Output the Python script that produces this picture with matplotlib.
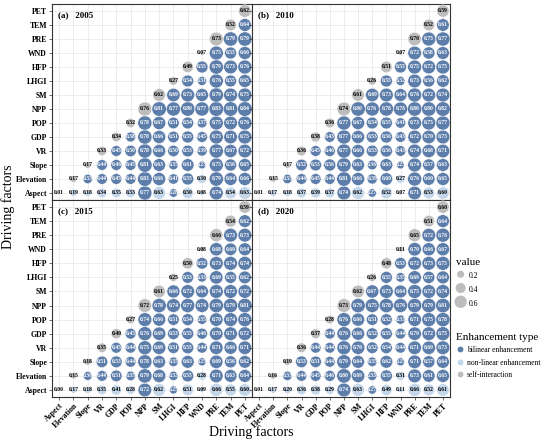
import matplotlib
matplotlib.use('Agg')
import matplotlib.pyplot as plt
from matplotlib.lines import Line2D

plt.rcParams['font.family'] = ['Liberation Serif', 'DejaVu Serif']

factors = ['Aspect', 'Elevation', 'Slope', 'VR', 'GDP', 'POP', 'NPP', 'SM',
           'LHGI', 'HFP', 'WND', 'PRE', 'TEM', 'PET']
years = ['2005', '2010', '2015', '2020']
tags = ['(a)', '(b)', '(c)', '(d)']

# each row: factor's own q (diagonal) followed by interactions with later factors
q2005 = [
    [0.01, 0.19, 0.18, 0.34, 0.35, 0.33, 0.77, 0.63, 0.28, 0.50, 0.08, 0.74, 0.54, 0.63],
    [0.17, 0.33, 0.44, 0.45, 0.44, 0.83, 0.66, 0.41, 0.55, 0.30, 0.79, 0.64, 0.66],
    [0.17, 0.44, 0.46, 0.45, 0.81, 0.63, 0.35, 0.61, 0.23, 0.75, 0.56, 0.65],
    [0.33, 0.45, 0.50, 0.78, 0.66, 0.50, 0.53, 0.39, 0.77, 0.67, 0.72],
    [0.34, 0.38, 0.78, 0.66, 0.51, 0.55, 0.45, 0.75, 0.71, 0.75],
    [0.32, 0.78, 0.67, 0.51, 0.54, 0.37, 0.75, 0.72, 0.76],
    [0.76, 0.81, 0.77, 0.80, 0.77, 0.83, 0.81, 0.84],
    [0.62, 0.69, 0.73, 0.65, 0.79, 0.74, 0.75],
    [0.27, 0.54, 0.31, 0.76, 0.55, 0.65],
    [0.49, 0.55, 0.79, 0.73, 0.76],
    [0.07, 0.75, 0.55, 0.66],
    [0.73, 0.79, 0.79],
    [0.52, 0.64],
    [0.62],
]
q2010 = [
    [0.01, 0.17, 0.18, 0.37, 0.39, 0.37, 0.74, 0.62, 0.27, 0.52, 0.07, 0.71, 0.53, 0.60],
    [0.15, 0.33, 0.44, 0.45, 0.44, 0.81, 0.66, 0.39, 0.60, 0.27, 0.76, 0.60, 0.65],
    [0.17, 0.52, 0.53, 0.56, 0.79, 0.63, 0.36, 0.63, 0.23, 0.74, 0.57, 0.63],
    [0.36, 0.45, 0.46, 0.77, 0.66, 0.53, 0.56, 0.43, 0.74, 0.68, 0.71],
    [0.38, 0.43, 0.77, 0.66, 0.53, 0.56, 0.43, 0.72, 0.70, 0.73],
    [0.36, 0.77, 0.67, 0.54, 0.55, 0.41, 0.73, 0.75, 0.77],
    [0.74, 0.80, 0.76, 0.78, 0.76, 0.80, 0.80, 0.82],
    [0.61, 0.69, 0.73, 0.64, 0.76, 0.72, 0.74],
    [0.26, 0.55, 0.32, 0.73, 0.56, 0.62],
    [0.51, 0.55, 0.75, 0.72, 0.75],
    [0.07, 0.72, 0.58, 0.63],
    [0.70, 0.75, 0.77],
    [0.52, 0.61],
    [0.59],
]
q2015 = [
    [0.00, 0.17, 0.18, 0.35, 0.41, 0.28, 0.72, 0.62, 0.25, 0.51, 0.09, 0.66, 0.55, 0.60],
    [0.15, 0.30, 0.44, 0.51, 0.35, 0.79, 0.68, 0.33, 0.55, 0.28, 0.71, 0.63, 0.64],
    [0.18, 0.51, 0.53, 0.44, 0.78, 0.63, 0.35, 0.63, 0.25, 0.69, 0.56, 0.62],
    [0.35, 0.45, 0.44, 0.75, 0.69, 0.51, 0.55, 0.44, 0.71, 0.66, 0.71],
    [0.40, 0.45, 0.76, 0.69, 0.53, 0.55, 0.46, 0.70, 0.71, 0.72],
    [0.27, 0.74, 0.66, 0.51, 0.54, 0.35, 0.70, 0.74, 0.76],
    [0.72, 0.78, 0.74, 0.77, 0.74, 0.79, 0.79, 0.81],
    [0.61, 0.66, 0.72, 0.64, 0.74, 0.72, 0.72],
    [0.25, 0.53, 0.33, 0.69, 0.55, 0.62],
    [0.50, 0.52, 0.73, 0.74, 0.74],
    [0.08, 0.68, 0.60, 0.64],
    [0.66, 0.73, 0.73],
    [0.54, 0.62],
    [0.59],
]
q2020 = [
    [0.01, 0.17, 0.20, 0.36, 0.38, 0.29, 0.74, 0.63, 0.27, 0.49, 0.11, 0.66, 0.52, 0.61],
    [0.16, 0.33, 0.44, 0.45, 0.46, 0.80, 0.69, 0.33, 0.55, 0.31, 0.73, 0.61, 0.65],
    [0.19, 0.53, 0.51, 0.44, 0.79, 0.64, 0.35, 0.62, 0.25, 0.71, 0.57, 0.64],
    [0.36, 0.44, 0.44, 0.76, 0.70, 0.52, 0.54, 0.44, 0.71, 0.69, 0.73],
    [0.37, 0.44, 0.76, 0.66, 0.52, 0.55, 0.44, 0.70, 0.72, 0.75],
    [0.28, 0.76, 0.66, 0.51, 0.52, 0.33, 0.71, 0.75, 0.78],
    [0.73, 0.79, 0.75, 0.78, 0.76, 0.79, 0.79, 0.81],
    [0.62, 0.67, 0.73, 0.64, 0.75, 0.72, 0.74],
    [0.26, 0.55, 0.35, 0.69, 0.57, 0.64],
    [0.48, 0.53, 0.72, 0.73, 0.75],
    [0.11, 0.70, 0.66, 0.67],
    [0.65, 0.72, 0.76],
    [0.51, 0.64],
    [0.60],
]

# interactions classed as non-linear enhancement (others off-diagonal: bilinear)
nl2005 = {'Aspect': ['Elevation', 'Slope', 'VR', 'GDP', 'POP', 'SM', 'HFP', 'WND', 'TEM', 'PET'],
          'Elevation': ['WND']}
nl2010 = {'Aspect': ['Elevation', 'Slope', 'VR', 'GDP', 'POP', 'SM', 'HFP', 'WND', 'TEM', 'PET'],
          'Elevation': ['WND']}
nl2015 = {'Aspect': ['Elevation', 'Slope', 'VR', 'GDP', 'POP', 'SM', 'HFP', 'WND', 'PRE', 'TEM', 'PET'],
          'Elevation': ['WND']}
nl2020 = {'Aspect': ['Elevation', 'Slope', 'VR', 'GDP', 'POP', 'SM', 'HFP', 'WND', 'PRE', 'TEM', 'PET'],
          'Elevation': ['WND']}

data = [q2005, q2010, q2015, q2020]
nls = [nl2005, nl2010, nl2015, nl2020]

COL = {'bilinear': '#5d7daa', 'nonlinear': '#c3d6ea', 'self': '#bdbdbd'}
TXT = {'bilinear': 'white', 'nonlinear': 'black', 'self': 'black'}
SCALE = 132

W, H = 550, 442
fig = plt.figure(figsize=(W / 100, H / 100), dpi=100)


def rect(l, t, r, b):
    return [l / W, 1 - b / H, (r - l) / W, (b - t) / H]


rects = [rect(52, 4, 252, 200), rect(252, 4, 450, 200),
         rect(52, 200, 252, 397), rect(252, 200, 450, 397)]

for k in range(4):
    ax = fig.add_axes(rects[k])
    xs, ys, vs, ts = [], [], [], []
    for i, row in enumerate(data[k]):
        for d, v in enumerate(row):
            j = i + d
            if d == 0:
                t = 'self'
            elif factors[j] in nls[k].get(factors[i], []):
                t = 'nonlinear'
            else:
                t = 'bilinear'
            xs.append(factors[j]); ys.append(factors[i]); vs.append(v); ts.append(t)
    xi = [factors.index(x) + 1 for x in xs]
    yi = [factors.index(y) + 1 for y in ys]
    ax.scatter(xi, yi, s=[SCALE * v for v in vs], c=[COL[t] for t in ts],
               edgecolors='white', linewidths=0.3, zorder=3)
    for x, y, v, t in zip(xi, yi, vs, ts):
        ax.text(x, y, f'{v:.2f}', fontsize=4.1, fontweight='bold', color=TXT[t],
                ha='center', va='center', zorder=4)
    ax.set_xlim(0.5, 14.5)
    ax.set_ylim(0.5, 14.5)
    ax.set_xticks(range(1, 15))
    ax.set_yticks(range(1, 15))
    if k in (0, 2):
        ax.set_yticklabels(factors, fontsize=5.6, fontweight='bold')
    else:
        ax.set_yticklabels([])
    if k in (2, 3):
        ax.set_xticklabels(factors, fontsize=5.6, fontweight='bold', rotation=45,
                           ha='right', rotation_mode='anchor')
    else:
        ax.set_xticklabels([])
    ax.tick_params(length=2, width=0.5, color='#333333', pad=1.5)
    ax.grid(True, color='#e6e6e6', lw=0.5)
    ax.set_axisbelow(True)
    for s in ax.spines.values():
        s.set_linewidth(0.8)
        s.set_color('#333333')
    ax.text(0.03, 0.945, f'{tags[k]}   {years[k]}', transform=ax.transAxes,
            fontsize=6.5, fontweight='bold', ha='left', va='center', zorder=5)

fig.text(251 / W, 1 - 432 / H, 'Driving factors', fontsize=10, ha='center', va='center')
fig.text(8 / W, 1 - 207 / H, 'Driving factors', fontsize=10, ha='center', va='center',
         rotation=90)

size_vals = [0.2, 0.4, 0.6]
h1 = [plt.scatter([], [], s=SCALE * v, color='#bdbdbd', edgecolors='none') for v in size_vals]
leg1 = fig.legend(h1, [str(v) for v in size_vals], title='value', loc='upper left',
                  bbox_to_anchor=(453 / W, 1 - 255 / H), frameon=False,
                  prop={'size': 5.5}, title_fontsize=8, handleheight=1.7,
                  labelspacing=0.45, handlelength=1.2, handletextpad=0.4,
                  alignment='left', borderaxespad=0)

type_names = ['bilinear enhancement', 'non-linear enhancement', 'self-interaction']
type_keys = ['bilinear', 'nonlinear', 'self']
h2 = [Line2D([], [], ls='none', marker='o', markersize=4.2, markerfacecolor=COL[t],
             markeredgecolor='none') for t in type_keys]
leg2 = fig.legend(h2, type_names, title='Enhancement type', loc='upper left',
                  bbox_to_anchor=(453 / W, 1 - 330 / H), frameon=False,
                  prop={'size': 5.5}, title_fontsize=8, handleheight=1.0,
                  labelspacing=0.55, handlelength=1.0, handletextpad=0.4,
                  alignment='left', borderaxespad=0)

fig.savefig('out.png', dpi=100)
